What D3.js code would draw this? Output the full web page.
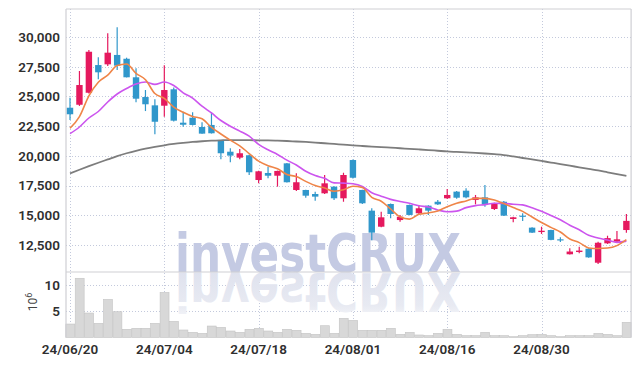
<!DOCTYPE html>
<html><head><meta charset="utf-8">
<script src="https://cdn.jsdelivr.net/npm/d3@7/dist/d3.min.js"></script>
<style>html,body{margin:0;padding:0;background:#fff;} svg{display:block;}</style>
</head><body>
<svg id="chart" width="639" height="366"></svg>
<script>
const dates = ["24/06/20","24/06/21","24/06/24","24/06/25","24/06/26","24/06/27","24/06/28","24/07/01","24/07/02","24/07/03",
"24/07/04","24/07/05","24/07/08","24/07/09","24/07/10","24/07/11","24/07/12","24/07/15","24/07/16","24/07/17",
"24/07/18","24/07/19","24/07/22","24/07/23","24/07/24","24/07/25","24/07/26","24/07/29","24/07/30","24/07/31",
"24/08/01","24/08/02","24/08/05","24/08/06","24/08/07","24/08/08","24/08/09","24/08/12","24/08/13","24/08/14",
"24/08/16","24/08/19","24/08/20","24/08/21","24/08/22","24/08/23","24/08/26","24/08/27","24/08/28","24/08/29",
"24/08/30","24/09/02","24/09/03","24/09/04","24/09/05","24/09/06","24/09/09","24/09/10","24/09/11","24/09/12"];
const openP = [24050,24300,25310,27640,27700,28490,28170,26610,24950,24250,
24220,25600,22790,23210,22430,22600,21340,20350,19850,20050,
17970,18560,18330,19370,17130,17130,16790,16850,17410,16430,
19650,17130,15390,14040,15950,14600,15870,15170,15810,16140,
16430,16990,17070,16290,16510,15530,16140,14690,14970,13960,
13590,13760,12980,11720,11910,12190,11010,12640,12780,13760];
const highP = [24890,27140,28900,28290,30310,30820,28260,27370,25540,24760,
27620,25760,23720,23670,22820,23670,21340,20640,20580,20100,
18750,19090,18760,19400,18530,17150,16990,18390,17450,18580,
19700,17150,15590,15300,16000,15030,15900,15870,15850,16290,
17210,17050,17270,16710,17550,16060,16200,14880,15170,13990,
14040,13790,13150,12230,12360,12220,12780,13280,13680,15110];
const lowP = [23020,24200,25250,26440,27560,27220,26600,24510,23770,21810,
23300,22900,22450,22550,21850,21880,19710,19460,19710,18390,
17690,18110,17410,17750,17040,16480,16230,16800,16290,16140,
18100,15950,12890,13990,14750,14460,15000,15110,15030,15870,
16370,16400,16430,15920,15720,15450,14930,14410,14530,13500,
13430,12900,12750,11700,11800,11430,10900,12590,12770,13540];
const closeP = [23500,25960,28760,27030,28680,27590,26610,24810,24340,22870,
25540,22960,22620,22600,21870,21900,20220,20020,20220,18620,
18700,18330,18730,17780,17780,16650,16570,17690,16430,18390,
18160,16010,13540,14830,15110,14880,15030,15590,15390,15920,
16710,16480,16510,16510,15920,16010,14970,14830,14920,13540,
13700,12930,12890,11950,12030,11460,12690,13080,12980,14530];
const ma5 = [22320,23300,25050,26200,26786,27604,27734,26944,26406,25244,
24834,24104,23666,23318,23118,22390,21842,21322,20846,20196,
19556,19178,18920,18432,18264,17854,17502,17294,17024,17146,
17448,17336,16506,16186,15530,14874,14678,15088,15200,15362,
15728,16018,16202,16426,16426,16286,15984,15648,15330,14854,
14392,13984,13596,13002,12700,12252,12204,12242,12448,12948];
const ma10 = [21865,22428,23185,23732,24531,25204,25667,26046,26214,26015,
26219,25919,25305,24862,24181,23612,22973,22494,22082,21657,
20973,20510,20121,19639,19230,18705,18340,18107,17728,17705,
17651,17419,16900,16605,16338,16161,16007,15797,15693,15446,
15301,15348,15645,15813,15894,16007,16001,15925,15878,15640,
15339,14984,14622,14166,13777,13322,13094,12919,12725,12824];
const maLong = [18520,18830,19130,19420,19700,19980,20220,20430,20610,20760,
20890,21000,21090,21170,21230,21280,21310,21330,21330,21320,
21310,21300,21280,21250,21210,21170,21120,21060,21000,20940,
20880,20830,20780,20740,20690,20640,20590,20540,20490,20430,
20370,20330,20290,20250,20200,20140,20070,19950,19820,19700,
19570,19440,19310,19170,19040,18900,18770,18620,18470,18310];
const volume = [2.57,11.3,4.67,2.7,7.27,4.92,1.56,1.75,1.75,2.7,
8.6,3.08,1.43,0.98,0.79,2.19,1.94,1.24,0.98,1.56,
1.75,1.24,0.98,1.56,1.37,0.79,0.6,2.25,0.79,3.65,
3.27,1.37,1.37,1.37,1.75,0.6,0.98,0.48,0.35,0.79,
1.56,0.6,0.35,0.35,0.98,0.35,0.35,0.16,0.35,0.54,
0.6,0.35,0.16,0.35,0.35,0.35,0.79,0.6,0.35,2.9];
const xTickLabels = ["24/06/20","24/07/04","24/07/18","24/08/01","24/08/16","24/08/30"];
const priceTicks = [12500,15000,17500,20000,22500,25000,27500,30000];
const volTicks = [5,10];

const plotLeft = 65.3, plotRight = 631.1, plotTop = 9, priceBottom = 272, volBottom = 337.5;
const UP = "#e5195e", DOWN = "#3097cb";
const FONT = "Roboto, 'DejaVu Sans Condensed', sans-serif";

const svg = d3.select("#chart");
const x = d3.scaleBand().domain(dates).range([plotLeft, plotRight]).padding(0);
const cx = d => x(d) + x.bandwidth() / 2;
const y = d3.scaleLinear().domain([10229, 32356]).range([priceBottom, plotTop]);
const yv = d3.scaleLinear().domain([0, 12.5]).range([volBottom, priceBottom]);

// grid
const grid = svg.append("g").attr("stroke", "#c3c9dc").attr("stroke-width", 1).attr("stroke-dasharray", "1,2");
grid.selectAll("line.h").data(priceTicks).join("line").attr("class", "h")
  .attr("x1", 66).attr("x2", plotRight).attr("y1", d => Math.round(y(d)) + 0.5).attr("y2", d => Math.round(y(d)) + 0.5);
grid.selectAll("line.v").data(volTicks).join("line").attr("class", "v")
  .attr("x1", 66).attr("x2", plotRight).attr("y1", d => Math.round(yv(d)) + 0.5).attr("y2", d => Math.round(yv(d)) + 0.5);
grid.selectAll("line.x").data(xTickLabels).join("line").attr("class", "x")
  .attr("x1", d => Math.round(cx(d)) + 0.5).attr("x2", d => Math.round(cx(d)) + 0.5).attr("y1", plotTop).attr("y2", volBottom);

// watermark (with faded reflection)
const defs = svg.append("defs");
const grad = defs.append("linearGradient").attr("id", "refl").attr("gradientUnits", "userSpaceOnUse")
  .attr("x1", 0).attr("x2", 0).attr("y1", -priceBottom).attr("y2", -priceBottom - 48);
grad.append("stop").attr("offset", "0%").attr("stop-color", "#dfe2ee");
grad.append("stop").attr("offset", "70%").attr("stop-color", "#e8eaf2");
grad.append("stop").attr("offset", "100%").attr("stop-color", "#f6f7fa");
const wm = svg.append("g").attr("font-family", "'DejaVu Sans', sans-serif").attr("font-weight", "bold");
wm.append("text").attr("x", 175).attr("y", priceBottom).attr("font-size", 54)
  .attr("textLength", 286).attr("lengthAdjust", "spacingAndGlyphs")
  .attr("fill", "#c4cae3").text("investCRUX");
wm.append("text").attr("x", 175).attr("y", -priceBottom - 1).attr("font-size", 54)
  .attr("transform", "scale(1,-1)")
  .attr("textLength", 286).attr("lengthAdjust", "spacingAndGlyphs")
  .attr("fill", "url(#refl)").text("investCRUX");

// volume bars
svg.append("g").selectAll("rect").data(dates).join("rect")
  .attr("x", d => x(d) + 0.5).attr("width", x.bandwidth() - 0.5)
  .attr("y", (d, i) => yv(volume[i])).attr("height", (d, i) => volBottom - yv(volume[i]))
  .attr("fill", "#d8d8d8").attr("stroke", "#c4c4c4").attr("stroke-width", 0.6);

// borders
const bd = svg.append("g").attr("stroke", "#cfcfd4").attr("stroke-width", 1.2);
bd.append("line").attr("x1", 66).attr("x2", 66).attr("y1", plotTop).attr("y2", volBottom);
bd.append("line").attr("x1", plotRight).attr("x2", plotRight).attr("y1", plotTop).attr("y2", volBottom);
bd.append("line").attr("x1", 66).attr("x2", plotRight).attr("y1", plotTop).attr("y2", plotTop);
bd.append("line").attr("x1", 66).attr("x2", plotRight).attr("y1", priceBottom).attr("y2", priceBottom);

// candles
const bw = 6.4;
const cg = svg.append("g");
cg.selectAll("line").data(dates).join("line")
  .attr("x1", d => cx(d)).attr("x2", d => cx(d))
  .attr("y1", (d, i) => y(highP[i])).attr("y2", (d, i) => y(lowP[i]))
  .attr("stroke", (d, i) => closeP[i] >= openP[i] ? UP : DOWN).attr("stroke-width", 1.2);
cg.selectAll("rect").data(dates).join("rect")
  .attr("x", d => cx(d) - bw / 2).attr("width", bw)
  .attr("y", (d, i) => y(Math.max(openP[i], closeP[i])))
  .attr("height", (d, i) => Math.max(1.2, Math.abs(y(openP[i]) - y(closeP[i]))))
  .attr("fill", (d, i) => closeP[i] >= openP[i] ? UP : DOWN);

// moving averages
const lineGen = arr => d3.line().x(d => cx(d)).y((d, i) => y(arr[i])).curve(d3.curveMonotoneX)(dates);
svg.append("path").attr("d", lineGen(maLong)).attr("fill", "none").attr("stroke", "#7d7d7d").attr("stroke-width", 1.8);
svg.append("path").attr("d", lineGen(ma10)).attr("fill", "none").attr("stroke", "#cc55ee").attr("stroke-width", 1.6);
svg.append("path").attr("d", lineGen(ma5)).attr("fill", "none").attr("stroke", "#ef8548").attr("stroke-width", 1.6);

// axes
const yAxis = svg.append("g").attr("transform", "translate(66,0)")
  .call(d3.axisLeft(y).tickValues(priceTicks).tickFormat(d3.format(",")).tickSize(0).tickPadding(6));
const vAxis = svg.append("g").attr("transform", "translate(66,0)")
  .call(d3.axisLeft(yv).tickValues(volTicks).tickSize(0).tickPadding(6));
const xAxis = svg.append("g").attr("transform", `translate(0,${volBottom})`)
  .call(d3.axisBottom(x).tickValues(xTickLabels).tickSize(0).tickPadding(6.5));
[yAxis, vAxis, xAxis].forEach(g => {
  g.select(".domain").remove();
  g.selectAll("text").attr("font-family", FONT).attr("font-size", 13.5).attr("font-weight", 600).attr("fill", "#2f2f2f");
});

// volume unit label
const ul = svg.append("text").attr("transform", "translate(37,302) rotate(-90)")
  .attr("text-anchor", "middle").attr("font-family", FONT).attr("font-size", 12).attr("fill", "#444");
ul.append("tspan").text("10");
ul.append("tspan").attr("dy", -5).attr("font-size", 9).text("6");
</script>
</body></html>
